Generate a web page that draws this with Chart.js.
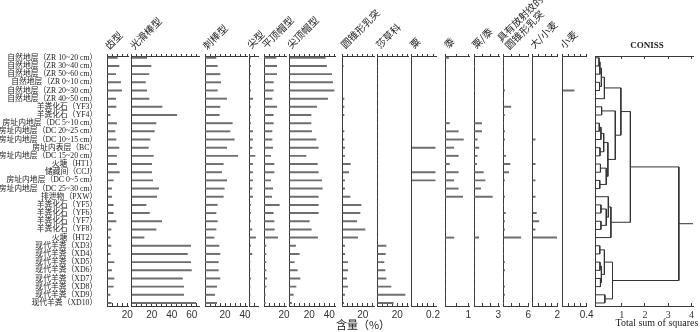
<!DOCTYPE html>
<html>
<head>
<meta charset="utf-8">
<script src="https://cdn.jsdelivr.net/npm/chart.js@4.4.1/dist/chart.umd.min.js"></script>
<style>
  body { margin: 0; background: #fff; }
  #wrap { position: relative; width: 700px; height: 332px; overflow: hidden; }
  #wrap canvas { position: absolute; left: 0; top: 0; }
  .ttl { position: absolute; font: 10px "Noto Sans CJK SC"; color: #222; white-space: nowrap;
         line-height: 11px; transform-origin: 0 100%; transform: rotate(-45deg); }
  .txt { position: absolute; white-space: nowrap; color: #222; transform: translateX(-50%); }
</style>
</head>
<body>
<div id="wrap"></div>
<script>
// sample names, top to bottom
const sampleLabels = [
  "自然地层（ZR 10~20 cm）", "自然地层（ZR 30~40 cm）", "自然地层（ZR 50~60 cm）",
  "自然地层（ZR 0~10 cm）", "自然地层（ZR 20~30 cm）", "自然地层（ZR 40~50 cm）",
  "羊粪化石（YF3）", "羊粪化石（YF4）",
  "房址内地层（DC 5~10 cm）", "房址内地层（DC 20~25 cm）", "房址内地层（DC 10~15 cm）",
  "房址内表层（BC）", "房址内地层（DC 15~20 cm）", "火塘（HT1）", "储藏间（CCJ）",
  "房址内地层（DC 0~5 cm）", "房址内地层（DC 25~30 cm）", "排泄物（PXW）",
  "羊粪化石（YF5）", "羊粪化石（YF6）", "羊粪化石（YF7）", "羊粪化石（YF8）", "火塘（HT2）",
  "现代羊粪（XD3）", "现代羊粪（XD4）", "现代羊粪（XD5）", "现代羊粪（XD6）",
  "现代羊粪（XD7）", "现代羊粪（XD8）", "现代羊粪（XD9）", "现代羊粪（XD10）"
];
const rows = sampleLabels.map((s, i) => i + 1);

const panelTitles = ["齿型", "光滑棒型", "刺棒型", "尖型", "平顶帽型", "尖顶帽型", "圆锥形乳突",
  "莎草科", "粟", "黍", "粟/黍", "具有放射纹的<br>圆锥形乳突", "大/小麦", "小麦"];

// values per panel (%), one per sample
const chiXing  = [10, 11.7, 8.3, 13.3, 14.3, 8.3, 8.7, 2.7, 9.3, 7.7, 8.7, 11.7, 9.3, 9.3, 12, 6, 4.3, 4.3, 6, 6, 8.7, 3.7, 2.7, 3.7, 2.7, 6.7, 4.3, 6.7, 6, 2.7, 4];
const guangHua = [15, 19.3, 17.3, 13.7, 15, 17.3, 30.3, 45, 24.3, 22.7, 18.3, 16.7, 21.7, 20, 20, 21, 27, 25, 14.3, 17.7, 30, 24.3, 12.3, 59, 55.7, 59, 59.7, 50.7, 52, 52, 64];
const ciBang   = [11, 12.3, 15, 15.7, 12.3, 21.7, 15, 14.3, 27.3, 25, 29.3, 21.7, 32.7, 18.3, 16.7, 21.7, 19.3, 18.3, 12.3, 11, 12.3, 11, 9, 14, 15, 13.3, 13.3, 15, 11.7, 9.7, 11.7];
const jianXing = [1, 1.3, 1.3, 1.3, 1.3, 3.3, 1.3, 1.3, 1.3, 3.3, 3.3, 2.7, 5.7, 3.3, 3.3, 3.3, 2.7, 3.3, 1.3, 1.3, 1.3, 2.7, 6.3, 1.3, 2.7, 0.7, 0.7, 1.3, 0.7, 0.7, 0.7];
const pingDing = [12, 12.7, 12.7, 9.3, 9.3, 8, 12.7, 9.3, 9.3, 8, 8, 8.7, 6.7, 10, 10, 6.7, 8.7, 7.7, 15.3, 9.3, 10, 10.3, 13.7, 2, 2, 2, 2, 2.7, 2, 1.3, 1.3];
const jianDing = [36, 37.3, 42.3, 43.3, 44.7, 38.3, 27.3, 21.7, 21.7, 22.3, 26.7, 29, 16.7, 28, 29, 32.3, 33, 29, 29, 29, 20, 22, 28.3, 6.3, 10, 5, 8, 10.7, 6.7, 4, 2.3];
const yuanZhui = [0, 0.5, 0, 0, 0, 1.3, 1.3, 1.3, 0, 1.3, 1.3, 2, 2, 7.7, 6, 2, 2, 7.3, 18.3, 17.3, 14, 22.3, 15, 2, 2, 5, 5, 4, 5, 2, 1];
const shaCao   = [0, 0, 0, 0, 0, 0, 0, 0, 0, 0, 0, 0, 0, 0, 0, 0, 0, 0, 0.5, 0.5, 0.5, 0.5, 0, 8.7, 8, 6.7, 7.7, 8.7, 13.7, 27.7, 16];
const su       = [0, 0, 0, 0, 0, 0, 0, 0, 0, 0, 0, 0.22, 0, 0, 0.22, 0.22, 0, 0, 0, 0, 0, 0, 0, 0, 0, 0, 0, 0, 0, 0, 0];
const shu      = [0.15, 0, 0, 0, 0, 0, 0, 0, 0.19, 0.57, 0.79, 0.38, 0.57, 0.19, 0.57, 0.38, 0.57, 0.76, 0, 0, 0, 0, 0.38, 0, 0, 0, 0, 0, 0, 0, 0];
const suShu    = [0, 0.1, 0, 0, 0.1, 0, 0, 0, 0.95, 0.95, 0.4, 0.6, 0.4, 0.33, 1.15, 1.36, 0.82, 2.26, 0, 0, 0, 0, 0.58, 0, 0, 0, 0, 0, 0, 0, 0];
const fangShe  = [0, 0, 0, 0, 0.3, 0, 1.8, 0.3, 0, 0.3, 0.3, 0, 0.6, 1.6, 1.3, 0.3, 0, 0.3, 0, 0.5, 0.3, 0.3, 4.2, 0, 0, 0.3, 0.3, 0, 0.3, 0.3, 0];
const daXiao   = [0, 0, 0, 0, 0, 0, 0, 0, 0, 0, 0.2, 0, 0, 0.2, 0, 0.2, 0, 0.2, 0, 0.3, 0.5, 0.2, 1.95, 0, 0, 0, 0, 0, 0, 0, 0];
const xiaoMai  = [0, 0, 0, 0, 0.19, 0, 0, 0, 0, 0, 0, 0, 0, 0, 0, 0, 0, 0, 0, 0, 0, 0, 0, 0, 0, 0, 0, 0, 0, 0, 0];

// labelled ticks on each panel's bottom axis
const panelTicks = [[20], [20, 40, 60], [20, 40], [], [20], [20, 40], [20], [20], [0.2], [1], [3], [6], [2], [0.4]];

// CONISS merges: leaf i = sample i, node 31+k = merge k
const conissA = [0, 31, 3, 32, 34, 6, 8, 37, 11, 38, 13, 15, 41, 40, 36, 35, 18, 20, 47, 17, 50, 46, 23, 25, 27, 54, 53, 29, 57, 52];
const conissB = [1, 2, 4, 33, 5, 7, 9, 10, 12, 39, 14, 16, 42, 43, 44, 45, 19, 21, 48, 49, 22, 51, 24, 26, 28, 55, 56, 30, 58, 59];
const conissH = [0.02, 0.06, 0.04, 0.12, 0.25, 0.13, 0.03, 0.1, 0.06, 0.22, 0.08, 0.05, 0.33, 0.4, 0.72, 0.96,
                 0.1, 0.1, 0.33, 0.42, 0.53, 1.37, 0.05, 0.06, 0.08, 0.12, 0.25, 0.27, 0.6, 3.46];
const conissTicks = [1, 2, 3, 4];

const panels = [
  { values: chiXing,  x0: 107.3, max: 20.7, px: 1,     step: 5,    tx: 110, ty: 51 },
  { values: guangHua, x0: 131.7, max: 68,   px: 1,     step: 5,    tx: 135, ty: 51 },
  { values: ciBang,   x0: 205,   max: 42,   px: 1,     step: 5,    tx: 208, ty: 51 },
  { values: jianXing, x0: 249.3, max: 9,    px: 1,     step: 5,    tx: 252, ty: 50 },
  { values: pingDing, x0: 264,   max: 22.5, px: 1,     step: 5,    tx: 267, ty: 50 },
  { values: jianDing, x0: 289.3, max: 46,   px: 1,     step: 5,    tx: 292, ty: 50 },
  { values: yuanZhui, x0: 342.7, max: 32,   px: 1,     step: 5,    tx: 346, ty: 50 },
  { values: shaCao,   x0: 377.3, max: 31,   px: 1,     step: 5,    tx: 381, ty: 50 },
  { values: su,       x0: 411.7, max: 0.23, px: 106.5, step: 0.05, tx: 415, ty: 50 },
  { values: shu,      x0: 445,   max: 1.07, px: 23.3,  step: 0.5,  tx: 449, ty: 50 },
  { values: suShu,    x0: 474,   max: 3.12, px: 8.1,   step: 1,    tx: 477, ty: 50 },
  { values: fangShe,  x0: 503.3, max: 6.1,  px: 4.17,  step: 2,    tx: 510, ty: 51 },
  { values: daXiao,   x0: 532.7, max: 2,    px: 12.3,  step: 0.5,  tx: 535, ty: 50 },
  { values: xiaoMai,  x0: 562.7, max: 0.4,  px: 60,    step: 0.1,  tx: 565, ty: 50 }
];

const wrap = document.getElementById("wrap");
const axisColor = "#3a3a3a";
const barColor = "#6e6e6e";
const yMin = 0.78, yMax = 31.37;
const top0 = 56, bottom0 = 306;

function addCanvas() {
  const c = document.createElement("canvas");
  c.width = 700;
  c.height = 332;
  wrap.appendChild(c);
  return c;
}

function addText(html, x, y, css, cls) {
  const d = document.createElement("div");
  d.className = cls || "txt";
  d.innerHTML = html;
  d.style.left = x + "px";
  d.style.top = y + "px";
  if (css) d.style.cssText += css;
  wrap.appendChild(d);
}

// left axis: its box spans 0..x0 so tick labels are not clipped
function yScale(showLabels, x0) {
  return {
    type: "linear", reverse: true, offset: false, min: yMin, max: yMax,
    ticks: {
      display: showLabels, stepSize: 1, autoSkip: false, includeBounds: false, padding: 2, color: "#222",
      font: { family: "'Liberation Serif', 'Noto Sans CJK SC'", size: 7.8 },
      callback: (v) => sampleLabels[v - 1] || ""
    },
    grid: { display: false },
    border: { color: axisColor, width: 1 },
    afterFit: (s) => { s.width = x0; }
  };
}

function bottomAxis(min, max, step, font, label, tickColor) {
  return {
    type: "linear", position: "bottom", min: min, max: max,
    ticks: {
      stepSize: step, autoSkip: false, maxRotation: 0, includeBounds: false, padding: 6,
      color: "#333", font: font, callback: label
    },
    grid: { drawOnChartArea: false, tickLength: -3, color: tickColor },
    border: { color: axisColor },
    afterFit: (s) => { s.height = 332 - bottom0; }
  };
}

function topAxis(min, max, step, len, tickColor) {
  return {
    type: "linear", axis: "x", position: "top", min: min, max: max,
    ticks: { display: false, stepSize: step, autoSkip: false, includeBounds: false },
    grid: { drawOnChartArea: false, tickLength: len, color: tickColor },
    border: { color: axisColor },
    afterFit: (s) => { s.height = top0; }
  };
}

function makePanel(p, i) {
  const x1 = p.x0 + p.max * p.px;
  const label = (v) => {
    const t = panelTicks[i].find((t) => Math.abs(t - v) < 1e-6);
    return t === undefined ? "" : String(t);
  };
  new Chart(addCanvas(), {
    type: "bar",
    data: {
      datasets: [{
        data: p.values.map((v, k) => ({ x: v, y: rows[k] })),
        backgroundColor: barColor,
        barThickness: 1.3
      }]
    },
    options: {
      indexAxis: "y", responsive: false, animation: false, events: [],
      layout: { padding: { left: 0, right: 700 - x1, top: 0, bottom: 0 } },
      plugins: { legend: { display: false }, tooltip: { enabled: false } },
      scales: {
        y: yScale(i === 0, p.x0),
        x: bottomAxis(0, p.max, p.step, { family: "Liberation Sans", size: 10 }, label, axisColor),
        xTop: topAxis(0, p.max, p.step, 2, axisColor)
      }
    }
  });
  addText(panelTitles[i], p.tx, p.ty - 11 * (panelTitles[i].includes("<br>") ? 2 : 1), "", "ttl");
}

panels.forEach(makePanel);

// CONISS dendrogram
function makeConiss() {
  const cMin = -0.155, cMax = 4.07;
  const x0 = 595, x1 = x0 + (cMax - cMin) * 24.07;
  const nodes = rows.map((r) => ({ y: r, h: cMin }));
  const sets = [];
  conissA.forEach((a, k) => {
    const n1 = nodes[a], n2 = nodes[conissB[k]], h = conissH[k];
    sets.push([{ x: n1.h, y: n1.y }, { x: h, y: n1.y }, { x: h, y: n2.y }, { x: n2.h, y: n2.y }]);
    nodes.push({ y: (n1.y + n2.y) / 2, h: h });
  });
  const root = nodes[nodes.length - 1];
  sets.push([{ x: root.h, y: root.y }, { x: cMax, y: root.y }]);

  const tickColor = (c) => (c.tick && c.tick.value === 0 ? "rgba(0,0,0,0)" : axisColor);
  new Chart(addCanvas(), {
    type: "scatter",
    data: {
      datasets: sets.map((d) => ({
        data: d, showLine: true, pointRadius: 0, borderColor: "#333", borderWidth: 1
      }))
    },
    options: {
      responsive: false, animation: false, events: [],
      layout: { padding: { left: 0, right: 700 - x1, top: 0, bottom: 0 } },
      plugins: { legend: { display: false }, tooltip: { enabled: false } },
      scales: {
        y: yScale(false, x0),
        x: bottomAxis(cMin, cMax, 1, { family: "Liberation Serif", size: 10 },
          (v) => (conissTicks.includes(v) ? String(v) : ""), tickColor),
        xTop: topAxis(cMin, cMax, 1, -3, tickColor)
      }
    }
  });
}
makeConiss();

addText("CONISS", 647, 40, "font: bold 9px 'Liberation Serif';");
addText("Total sum of squares", 657, 317, "font: 10px 'Liberation Serif';");
addText("含量（%）", 363, 316, "font: 11px 'Noto Sans CJK SC';");
</script>
</body>
</html>
